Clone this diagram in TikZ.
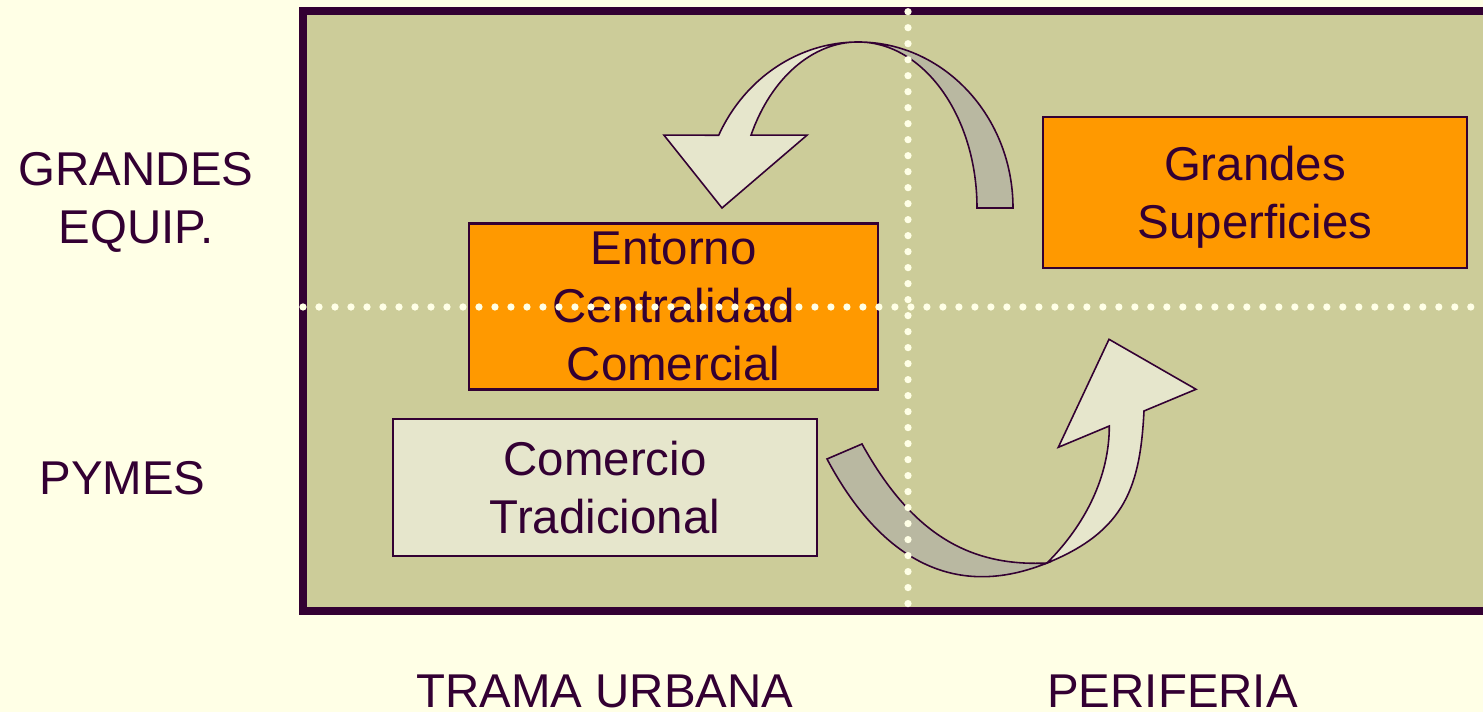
\documentclass[tikz,border=0pt]{standalone}
\usepackage{fontspec}
\setmainfont{Liberation Sans}
\definecolor{bgcol}{HTML}{FFFFE6}
\definecolor{panelcol}{HTML}{CCCC99}
\definecolor{inkcol}{HTML}{330033}
\definecolor{boxorange}{HTML}{FF9900}
\definecolor{boxlight}{HTML}{E6E6CC}
\definecolor{backband}{HTML}{B9B8A1}
\tikzset{
  txt/.style={font=\fontsize{27}{33}\selectfont,text=inkcol,align=center,inner sep=0pt},
  hotbox/.style={txt,draw=inkcol,line width=1.2pt,fill=boxorange},
  palebox/.style={txt,draw=inkcol,line width=1.2pt,fill=boxlight},
  frontband/.style={fill=boxlight,draw=inkcol,line width=0.9pt},
  rearband/.style={fill=backband,draw=inkcol,line width=0.9pt},
  dotline/.style={draw=bgcol,line width=0.145cm,line cap=round,dash pattern=on 0pt off 0.32cm}
}
\begin{document}
\begin{tikzpicture}[x=0.02cm,y=0.02cm]
  \useasboundingbox (0,0) rectangle (1483,712);
  \clip (0,0) rectangle (1483,712);
  \fill[bgcol] (0,0) rectangle (1483,712);
  \draw[fill=panelcol,draw=inkcol,line width=0.16cm] (303,100.5) rectangle (1520,700.5);
  % row and column labels
  \node[txt,text depth=0pt] (grandes) at (136,514.5) {GRANDES\\EQUIP.};
  \node[txt] (pymes) at (122.5,233.5) {PYMES};
  \node[txt,anchor=base] (trama) at (605,4) {TRAMA URBANA};
  \node[txt,anchor=base] (periferia) at (1172.5,4) {PERIFERIA};
  % boxes
  \node[hotbox,minimum width=8.18cm,minimum height=3.32cm] (entorno) at (673.5,405.5) {Entorno\\Centralidad\\Comercial};
  \node[hotbox,text depth=0pt,minimum width=8.48cm,minimum height=3.02cm] (superf) at (1255,519.5) {Grandes\\Superficies};
  \node[palebox,minimum width=8.48cm,minimum height=2.74cm] (tradic) at (605,224.5) {Comercio\\Tradicional};
  % upper curved arrow
  \begin{scope}[shift={(858,504)}]
    \filldraw[rearband] (0,166) arc[start angle=90,end angle=0,x radius=155,y radius=166]
      -- (119,0) arc[start angle=0,end angle=90,x radius=119,y radius=166] -- cycle;
    \filldraw[frontband] (0,166) arc[start angle=90,end angle=154,x radius=155,y radius=166]
      -- (-194,72.8) -- (-136,0) -- (-51,72.8) -- (-107,72.8)
      arc[start angle=154,end angle=90,x radius=119,y radius=166] -- cycle;
  \end{scope}
  % lower curved arrow
  \filldraw[rearband] (827,253) -- (862,268) .. controls (910.5,180.5) and (967,145) .. (1047,149)
    .. controls (945,107.7) and (873.9,164.7) .. (827,253) -- cycle;
  \filldraw[frontband] (1047,149) .. controls (1125.8,180.9) and (1140.1,226.1) .. (1144,301)
    -- (1196,322.7) -- (1109,372.7) -- (1058.3,264.7) -- (1109.3,286)
    .. controls (1109.3,236) and (1085.9,187.9) .. (1047,149) -- cycle;
  % dotted guides
  \draw[dotline] (908,700.3) -- (908,108.3);
  \draw[dotline] (303,405) -- (1500,405);
\end{tikzpicture}
\end{document}
